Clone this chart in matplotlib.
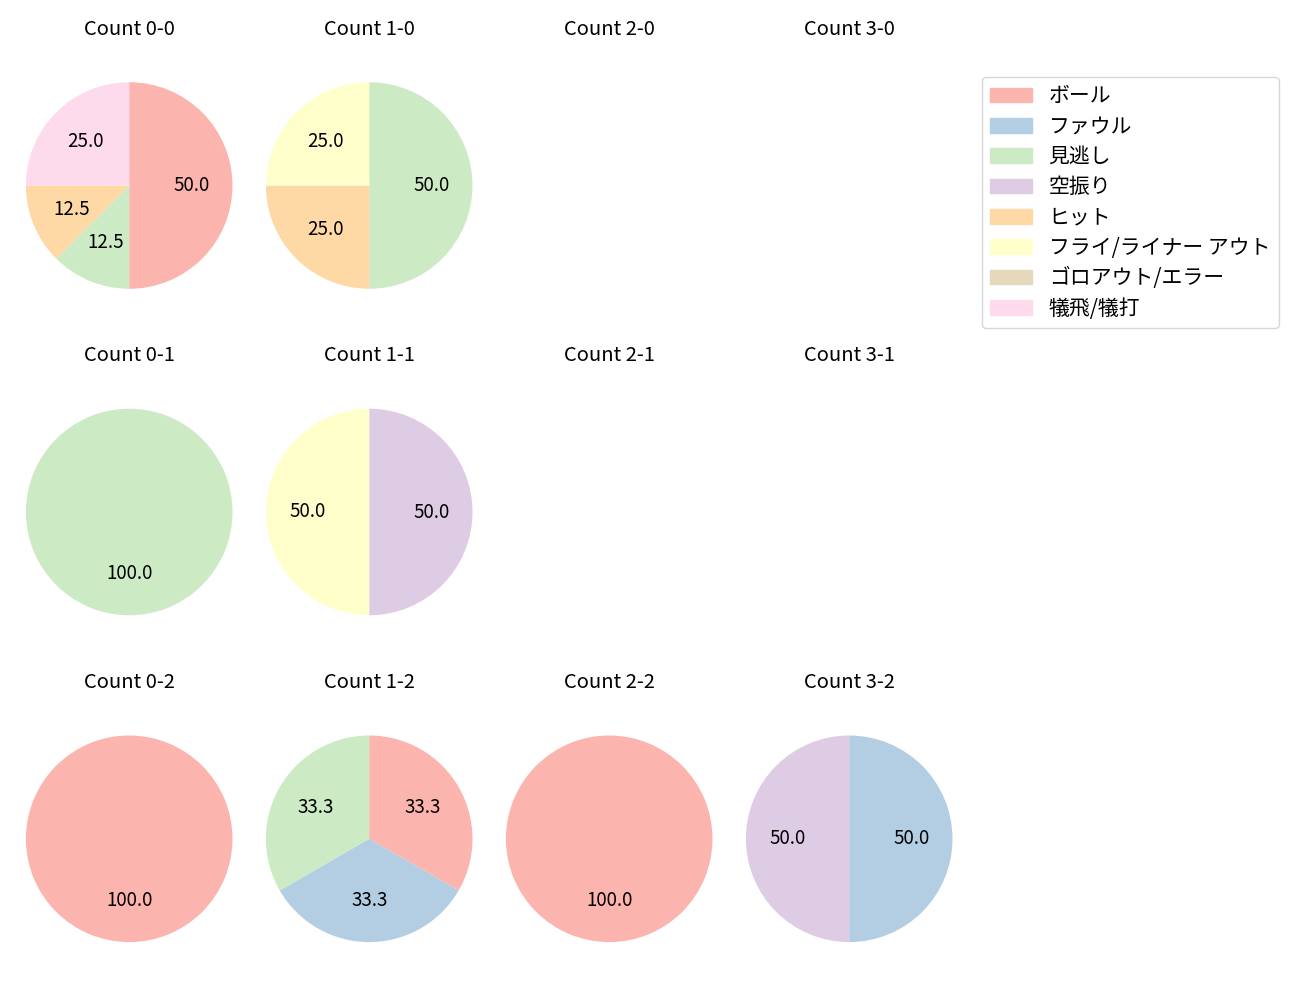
import matplotlib
matplotlib.use("Agg")
import matplotlib.pyplot as plt
import matplotlib.patches as mpatches

plt.rcParams['font.family'] = ['Noto Sans CJK JP', 'DejaVu Sans']

categories = ["ボール", "ファウル", "見逃し", "空振り", "ヒット",
              "フライ/ライナー アウト", "ゴロアウト/エラー", "犠飛/犠打"]
colors = ["#fbb4ae", "#b3cde3", "#ccebc5", "#decbe4", "#fed9a6",
          "#ffffcc", "#e5d8bd", "#fddaec"]

# counts per category for each ball-strike count (balls, strikes)
count_0_0 = [4, 0, 1, 0, 1, 0, 0, 2]
count_1_0 = [0, 0, 2, 0, 1, 1, 0, 0]
count_2_0 = [0, 0, 0, 0, 0, 0, 0, 0]
count_3_0 = [0, 0, 0, 0, 0, 0, 0, 0]
count_0_1 = [0, 0, 1, 0, 0, 0, 0, 0]
count_1_1 = [0, 0, 0, 1, 0, 1, 0, 0]
count_2_1 = [0, 0, 0, 0, 0, 0, 0, 0]
count_3_1 = [0, 0, 0, 0, 0, 0, 0, 0]
count_0_2 = [1, 0, 0, 0, 0, 0, 0, 0]
count_1_2 = [1, 1, 1, 0, 0, 0, 0, 0]
count_2_2 = [1, 0, 0, 0, 0, 0, 0, 0]
count_3_2 = [0, 1, 0, 1, 0, 0, 0, 0]

grid = {
    (0, 0): count_0_0, (1, 0): count_1_0, (2, 0): count_2_0, (3, 0): count_3_0,
    (0, 1): count_0_1, (1, 1): count_1_1, (2, 1): count_2_1, (3, 1): count_3_1,
    (0, 2): count_0_2, (1, 2): count_1_2, (2, 2): count_2_2, (3, 2): count_3_2,
}

W, H = 1300, 1000
fig = plt.figure(figsize=(13, 10), dpi=100)

r = 103.3
size = 2.5 * r
col_x = [129.2, 369.2, 609.2, 849.2]
row_y = [185.5, 512.0, 838.8]

for (b, s), vals in grid.items():
    cx, cy = col_x[b], row_y[s]
    ax = fig.add_axes([(cx - size / 2) / W, 1 - (cy + size / 2) / H, size / W, size / H])
    ax.set_title(f"Count {b}-{s}", fontsize=14.5, pad=15.5)
    data = [(v, c) for v, c in zip(vals, colors) if v > 0]
    if data:
        ax.pie([d[0] for d in data], colors=[d[1] for d in data],
               startangle=90, counterclock=False, autopct="%.1f",
               textprops={'fontsize': 13.5})
        ax.set_xlim(-1.25, 1.25)
        ax.set_ylim(-1.25, 1.25)
        ax.set_aspect('equal')
    else:
        ax.set_xlim(-1.25, 1.25)
        ax.set_ylim(-1.25, 1.25)
    ax.axis('off')

handles = [mpatches.Patch(color=c, label=l) for c, l in zip(colors, categories)]
fig.legend(handles=handles, loc='upper left', bbox_to_anchor=(982 / W, 1 - 77 / H),
           borderaxespad=0, fontsize=15, labelspacing=0.4)

fig.savefig("out.png", dpi=100)
